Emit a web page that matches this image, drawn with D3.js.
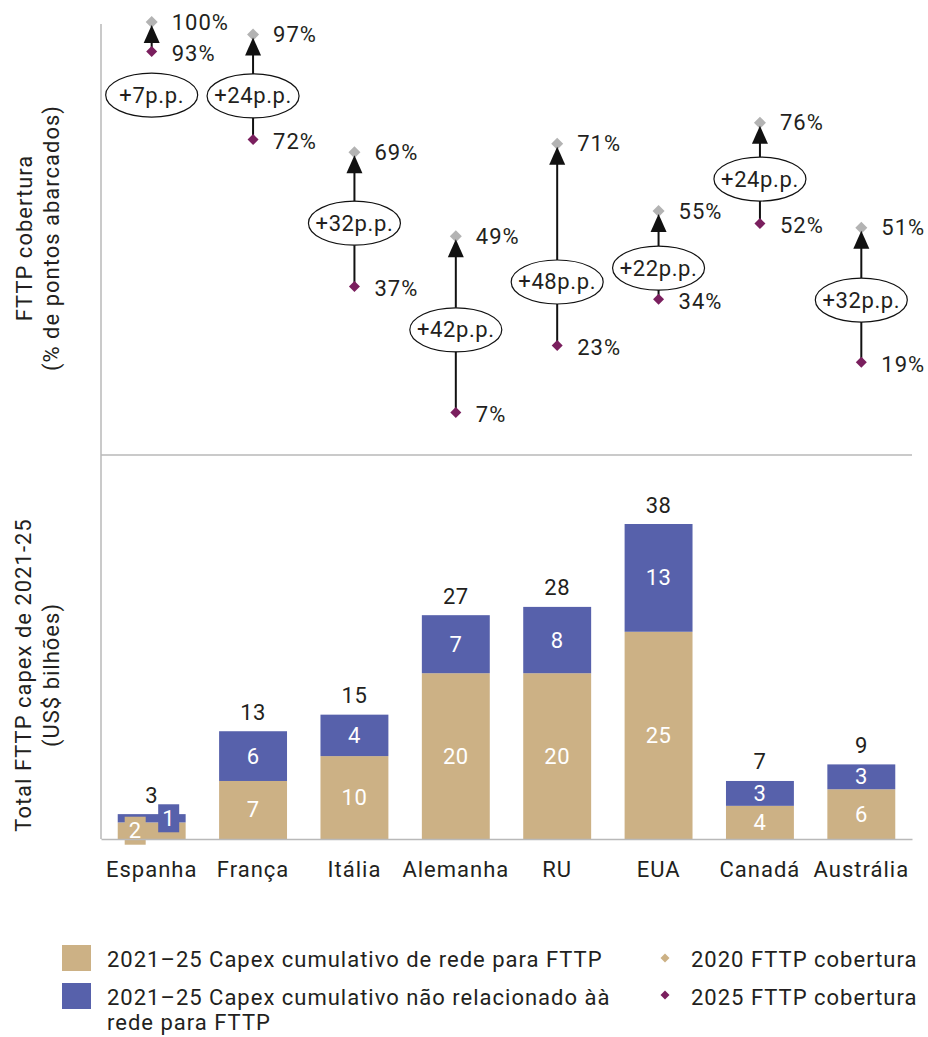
<!DOCTYPE html>
<html>
<head>
<meta charset="utf-8">
<script src="https://cdn.jsdelivr.net/npm/d3@7"></script>
<style>
  html, body { margin: 0; padding: 0; background: #fff; }
  svg { display: block; }
  text { font-family: Roboto, "Noto Sans", sans-serif; fill: #231f20; letter-spacing: 1px; }
</style>
</head>
<body>
<svg id="chart" width="928" height="1037"></svg>
<script>
// Countries (x axis)
const countries = ["Espanha", "França", "Itália", "Alemanha", "RU", "EUA", "Canadá", "Austrália"];

// FTTP coverage, % of premises passed
const coverage2020 = [93, 72, 37, 7, 23, 34, 52, 19];
const coverage2025 = [100, 97, 69, 49, 71, 55, 76, 51];
const coverageGain = [7, 24, 32, 42, 48, 22, 24, 32];

// Cumulative 2021–25 capex, US$ bn
const capexNetwork = [2, 7, 10, 20, 20, 25, 4, 6];
const capexNonNetwork = [1, 6, 4, 7, 8, 13, 3, 3];
const capexTotal = [3, 13, 15, 27, 28, 38, 7, 9];

// Legend entries
const barLegend = ["2021–25 Capex cumulativo de rede para FTTP",
                   ["2021–25 Capex cumulativo não relacionado àà", "rede para FTTP"]];
const markerLegend = ["2020 FTTP cobertura", "2025 FTTP cobertura"];

const C = {
  tan: "#ccb185",
  blue: "#5761ab",
  purple: "#7a1f5e",
  grey: "#b3b3b3",
  axis: "#b9b9b9",
  ink: "#231f20"
};
const FS = 22;

const svg = d3.select("#chart");

const x = d3.scaleBand().domain(countries).range([101, 912]).paddingInner(0.33).paddingOuter(0.165);
const cx = c => x(c) + x.bandwidth() / 2;

const yCov = d3.scaleLinear().domain([0, 100]).range([442, 22]);
const yBar = d3.scaleLinear().domain([0, 38]).range([839, 524]);

// ---- axes frame
svg.append("line").attr("x1", 101).attr("x2", 101).attr("y1", 24).attr("y2", 839)
  .attr("stroke", C.axis).attr("stroke-width", 1.5);
svg.append("line").attr("x1", 101).attr("x2", 912).attr("y1", 455).attr("y2", 455)
  .attr("stroke", C.axis).attr("stroke-width", 1.5);

// ---- axis titles
function vTitle(lines, xs, yc) {
  lines.forEach((t, i) => {
    svg.append("text")
      .attr("transform", `translate(${xs[i]},${yc}) rotate(-90)`)
      .attr("text-anchor", "middle").attr("dominant-baseline", "central")
      .attr("font-size", FS).text(t);
  });
}
vTitle(["FTTP cobertura", "(% de pontos abarcados)"], [24, 51], 238);
vTitle(["Total FTTP capex de 2021-25", "(US$ bilhões)"], [23, 51], 675);

// ---- coverage panel
function diamondPath(r) {
  return `M0,${-r}L${r},0L0,${r}L${-r},0Z`;
}

// vertical level (in % units) of each gain badge
const badgeLevel = [82.6, 82.4, 52.1, 26.7, 38.1, 41.4, 62.6, 33.8];

const covG = svg.append("g");
countries.forEach((c, i) => {
  const xc = cx(c);
  const yFrom = yCov(coverage2020[i]);
  const yTo = yCov(coverage2025[i]);
  const g = covG.append("g");

  // upper marker (under the arrow head)
  g.append("path").attr("d", diamondPath(6))
    .attr("transform", `translate(${xc},${yTo})`).attr("fill", C.grey);

  // shaft
  g.append("line").attr("x1", xc).attr("x2", xc)
    .attr("y1", yFrom).attr("y2", yTo + 18)
    .attr("stroke", "#111").attr("stroke-width", 2);
  // head
  g.append("path")
    .attr("d", `M${xc},${yTo + 3}L${xc + 8},${yTo + 21}L${xc - 8},${yTo + 21}Z`)
    .attr("fill", "#111");

  // lower marker
  g.append("path").attr("d", diamondPath(5.5))
    .attr("transform", `translate(${xc},${yFrom})`).attr("fill", C.purple);

  // value labels
  g.append("text").attr("x", xc + 20).attr("y", yTo).attr("dominant-baseline", "central")
    .attr("font-size", FS).text(coverage2025[i] + "%");
  g.append("text").attr("x", xc + 20).attr("y", yFrom + 2).attr("dominant-baseline", "central")
    .attr("font-size", FS).text(coverage2020[i] + "%");

  // gain badge
  const by = yCov(badgeLevel[i]);
  g.append("ellipse").attr("cx", xc).attr("cy", by).attr("rx", 46).attr("ry", 22)
    .attr("fill", "#fff").attr("stroke", "#111").attr("stroke-width", 1.2);
  g.append("text").attr("x", xc).attr("y", by).attr("text-anchor", "middle")
    .attr("dominant-baseline", "central").attr("font-size", FS)
    .style("letter-spacing", "0.6px")
    .text("+" + coverageGain[i] + "p.p.");
});

// ---- capex panel: network capex at the base, the rest up to the stated total
const segments = [];
countries.forEach((c, i) => {
  segments.push({ c, key: "network", lo: 0, hi: capexNetwork[i], label: capexNetwork[i], side: -1 });
  segments.push({ c, key: "other", lo: capexNetwork[i], hi: capexTotal[i], label: capexNonNetwork[i], side: 1 });
});
const fills = { network: C.tan, other: C.blue };

const bars = svg.append("g");
bars.selectAll("rect.seg").data(segments).join("rect").attr("class", "seg")
  .attr("x", d => x(d.c)).attr("width", x.bandwidth())
  .attr("y", d => yBar(d.hi)).attr("height", d => yBar(d.lo) - yBar(d.hi))
  .attr("fill", d => fills[d.key]);

segments.forEach(d => {
  const y0 = yBar(d.lo), y1 = yBar(d.hi);
  const ym = (y0 + y1) / 2;
  let lx = cx(d.c);
  if (y0 - y1 < 24) {
    // segment too thin: label sits on its own tab
    lx = cx(d.c) + (d.side < 0 ? -16.5 : 17);
    bars.append("rect").attr("x", lx - 10.5).attr("y", ym - 14)
      .attr("width", 21).attr("height", 28).attr("fill", fills[d.key]);
  }
  bars.append("text").attr("x", lx).attr("y", ym).attr("text-anchor", "middle")
    .attr("dominant-baseline", "central").attr("font-size", FS)
    .style("fill", "#fff").style("letter-spacing", "0.5px").text(d.label);
});
countries.forEach((c, i) => {
  bars.append("text").attr("x", cx(c)).attr("y", yBar(capexTotal[i]) - 19)
    .attr("text-anchor", "middle").attr("dominant-baseline", "central")
    .attr("font-size", FS).style("letter-spacing", "0.5px").text(capexTotal[i]);
});

// baseline + category axis
const xAxis = svg.append("g").attr("transform", "translate(0,839)")
  .call(d3.axisBottom(x).tickSize(0).tickPadding(22));
xAxis.select(".domain").attr("stroke", C.axis).attr("stroke-width", 1.5);
xAxis.selectAll("text").attr("font-size", FS)
  .style("font-family", "Roboto, sans-serif").style("fill", C.ink).style("letter-spacing", "1px");

// ---- legend
const lg = svg.append("g");
lg.append("rect").attr("x", 62).attr("y", 945).attr("width", 29).attr("height", 26).attr("fill", C.tan);
lg.append("rect").attr("x", 62).attr("y", 983).attr("width", 29).attr("height", 26).attr("fill", C.blue);
lg.append("text").attr("x", 107).attr("y", 967).attr("font-size", FS).text(barLegend[0]);
lg.append("text").attr("x", 107).attr("y", 1005).attr("font-size", FS).text(barLegend[1][0]);
lg.append("text").attr("x", 107).attr("y", 1030).attr("font-size", FS).text(barLegend[1][1]);

[C.tan, C.purple].forEach((col, i) => {
  const yy = 958 + i * 37;
  lg.append("path").attr("d", diamondPath(4.5)).attr("transform", `translate(665,${yy})`).attr("fill", col);
  lg.append("text").attr("x", 691).attr("y", 967 + i * 38).attr("font-size", FS).text(markerLegend[i]);
});
</script>
</body>
</html>
